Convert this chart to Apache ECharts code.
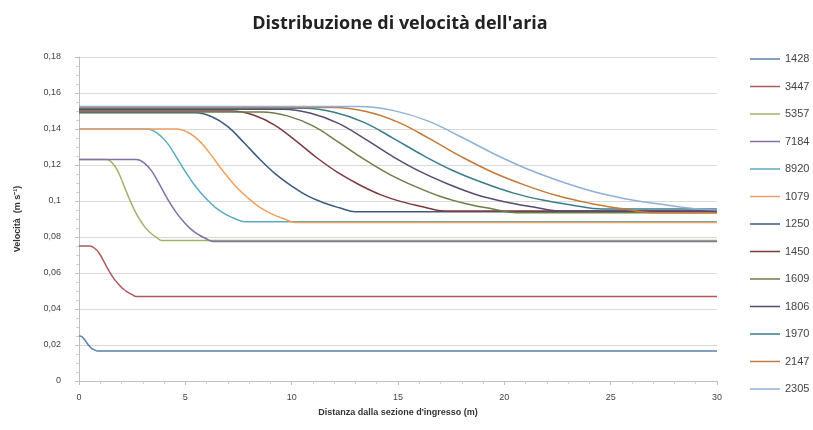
<!DOCTYPE html>
<html><head><meta charset="utf-8">
<script src="https://cdn.jsdelivr.net/npm/echarts@6/dist/echarts.min.js"></script>
<style>html,body{margin:0;padding:0;background:#fff}#c{width:813px;height:430px}</style>
</head><body><div id="c"></div>
<script>
const seriesNames = ['1428','3447','5357','7184','8920','1079','1250','1450','1609','1806','1970','2147','2305'];
const xTickValues = [0,5,10,15,20,25,30];
const yTickValues = [0,0.02,0.04,0.06,0.08,0.1,0.12,0.14,0.16,0.18];

const s1428 = [[0,0.025],[0.05,0.025],[0.13,0.0247],[0.21,0.0238],[0.29,0.0225],[0.37,0.0211],[0.45,0.0199],[0.53,0.0189],[0.61,0.018],[0.69,0.0174],[0.77,0.017],[0.85,0.0167],[30,0.0167]];
const s3447 = [[0,0.075],[0.5,0.075],[0.72,0.0739],[0.94,0.0711],[1.16,0.0666],[1.38,0.0618],[1.6,0.0576],[1.82,0.0543],[2.04,0.0515],[2.26,0.0495],[2.48,0.0481],[2.7,0.047],[30,0.047]];
const s5357 = [[0,0.123],[1.3,0.123],[1.56,0.1212],[1.82,0.1167],[2.08,0.1095],[2.34,0.1019],[2.6,0.0951],[2.86,0.0897],[3.12,0.0852],[3.38,0.0821],[3.64,0.0798],[3.9,0.078],[30,0.078]];
const s7184 = [[0,0.123],[2.7,0.123],[3.06,0.1212],[3.42,0.1166],[3.78,0.1094],[4.14,0.1016],[4.5,0.0948],[4.86,0.0893],[5.22,0.0848],[5.58,0.0816],[5.94,0.0793],[6.3,0.0775],[30,0.0775]];
const s8920 = [[0,0.14],[3.2,0.14],[3.66,0.1379],[4.12,0.1327],[4.58,0.1244],[5.04,0.1156],[5.5,0.1078],[5.96,0.1015],[6.42,0.0963],[6.88,0.0927],[7.34,0.0901],[7.8,0.0885],[30,0.0885]];
const s1079 = [[0,0.14],[4.6,0.14],[5.16,0.1379],[5.72,0.1327],[6.28,0.1244],[6.84,0.1156],[7.4,0.1078],[7.96,0.1015],[8.52,0.0963],[9.08,0.0927],[9.64,0.0901],[10.2,0.088],[30,0.088]];
const s1250 = [[0,0.149],[5.5,0.149],[6.25,0.1468],[7.0,0.1413],[7.75,0.1325],[8.5,0.1232],[9.25,0.1149],[10.0,0.1083],[10.75,0.1028],[11.5,0.099],[12.25,0.0962],[13.0,0.094],[30,0.094]];
const s1450 = [[0,0.15],[7.2,0.15],[8.2,0.1478],[9.2,0.1422],[10.2,0.1334],[11.2,0.1239],[12.2,0.1156],[13.2,0.1089],[14.2,0.1034],[15.2,0.0995],[16.2,0.0967],[17.2,0.0945],[30,0.0945]];
const s1609 = [[0,0.1495],[8.6,0.1495],[9.8,0.1473],[11,0.1417],[12.2,0.1327],[13.4,0.1232],[14.6,0.1148],[15.8,0.1081],[17,0.1025],[18.2,0.0985],[19.4,0.0957],[20.6,0.0935],[30,0.0935]];
const s1806 = [[0,0.151],[9.6,0.151],[10.9,0.1487],[12.2,0.1431],[13.5,0.1341],[14.8,0.1244],[16.1,0.116],[17.4,0.1092],[18.7,0.1035],[20,0.0996],[21.3,0.0968],[22.6,0.0945],[30,0.0945]];
const s1970 = [[0,0.1515],[10.6,0.1515],[12,0.1493],[13.4,0.1437],[14.8,0.1347],[16.2,0.1252],[17.6,0.1168],[19,0.1101],[20.4,0.1045],[21.8,0.1005],[23.2,0.0977],[24.6,0.0955],[30,0.0955]];
const s2147 = [[0,0.152],[12,0.152],[13.5,0.1497],[15,0.1438],[16.5,0.1345],[18,0.1245],[19.5,0.1157],[21,0.1087],[22.5,0.1029],[24,0.0988],[25.5,0.0958],[27,0.0935],[30,0.0935]];
const s2305 = [[0,0.1525],[13.2,0.1525],[14.8,0.1502],[16.4,0.1445],[18,0.1354],[19.6,0.1257],[21.2,0.1172],[22.8,0.1103],[24.4,0.1046],[26,0.1006],[27.6,0.0978],[29.2,0.0955],[30,0.0952]];

const seriesData = [s1428,s3447,s5357,s7184,s8920,s1079,s1250,s1450,s1609,s1806,s1970,s2147,s2305];
const colors = ['#5b7fae','#b0585a','#9cb56a','#8570a3','#5aabc4','#f0a060','#3d5a80','#7d3a3c','#6a7f45','#5a4a70','#3a7c8c','#c47a3a','#8fb0d6'];

const chart = echarts.init(document.getElementById('c'), null, {renderer:'canvas'});
const fmt = v => v === 0 ? '0' : String(parseFloat(v.toFixed(2))).replace('.', ',');
chart.setOption({
  animation: false,
  backgroundColor: '#fff',
  color: colors,
  title: {
    text: "Distribuzione di velocità dell'aria",
    left: 395, top: 10, textAlign: 'center',
    textStyle: {fontFamily: 'Open Sans', fontWeight: 'bold', fontSize: 18, color: '#222'}
  },
  legend: {
    orient: 'vertical', left: 745, top: 47,
    itemWidth: 30, itemHeight: 14, itemGap: 13.5,
    icon: 'path://M0,0 L30,0 L30,1.5 L0,1.5 Z',
    textStyle: {fontFamily: 'Liberation Sans', fontSize: 11, color: '#444', lineHeight: 14, height: 14},
    data: seriesNames
  },
  grid: {left: 79, right: 96, top: 57, bottom: 49},
  xAxis: {
    type: 'value', min: 0, max: 30, interval: 5,
    name: "Distanza dalla sezione d'ingresso (m)", nameLocation: 'middle', nameGap: 27,
    nameTextStyle: {fontFamily: 'Liberation Sans', fontWeight: 'bold', fontSize: 9, color: '#333'},
    axisLine: {show: true, lineStyle: {color: '#bfbfbf'}},
    axisTick: {show: true, length: 4, lineStyle: {color: '#bfbfbf'}},
    minorTick: {show: true, splitNumber: 5, length: 3, lineStyle: {color: '#cfcfcf'}},
    splitLine: {show: false},
    axisLabel: {margin: 12, fontFamily: 'Liberation Sans', fontSize: 9, color: '#444',
      formatter: v => xTickValues.includes(v) ? String(v) : ''}
  },
  yAxis: {
    type: 'value', min: 0, max: 0.18, interval: 0.02,
    name: 'Velocità  (m s\u207B\u00B9)', nameLocation: 'middle', nameGap: 57, nameRotate: 90,
    nameTextStyle: {fontFamily: 'Liberation Sans', fontWeight: 'bold', fontSize: 9, color: '#333'},
    axisLine: {show: true, lineStyle: {color: '#bfbfbf'}},
    axisTick: {show: true, length: 4, lineStyle: {color: '#bfbfbf'}},
    minorTick: {show: true, splitNumber: 4, length: 3, lineStyle: {color: '#cfcfcf'}},
    splitLine: {show: true, lineStyle: {color: '#d9d9d9', width: 1}},
    axisLabel: {margin: 18, fontFamily: 'Liberation Sans', fontSize: 9, color: '#444', formatter: fmt}
  },
  series: seriesNames.map((n, i) => ({
    name: n, type: 'line', data: seriesData[i],
    symbol: 'none', showSymbol: false, smooth: 0.4,
    lineStyle: {width: 1.5, color: colors[i]},
    itemStyle: {color: colors[i]}
  }))
});
</script></body></html>
